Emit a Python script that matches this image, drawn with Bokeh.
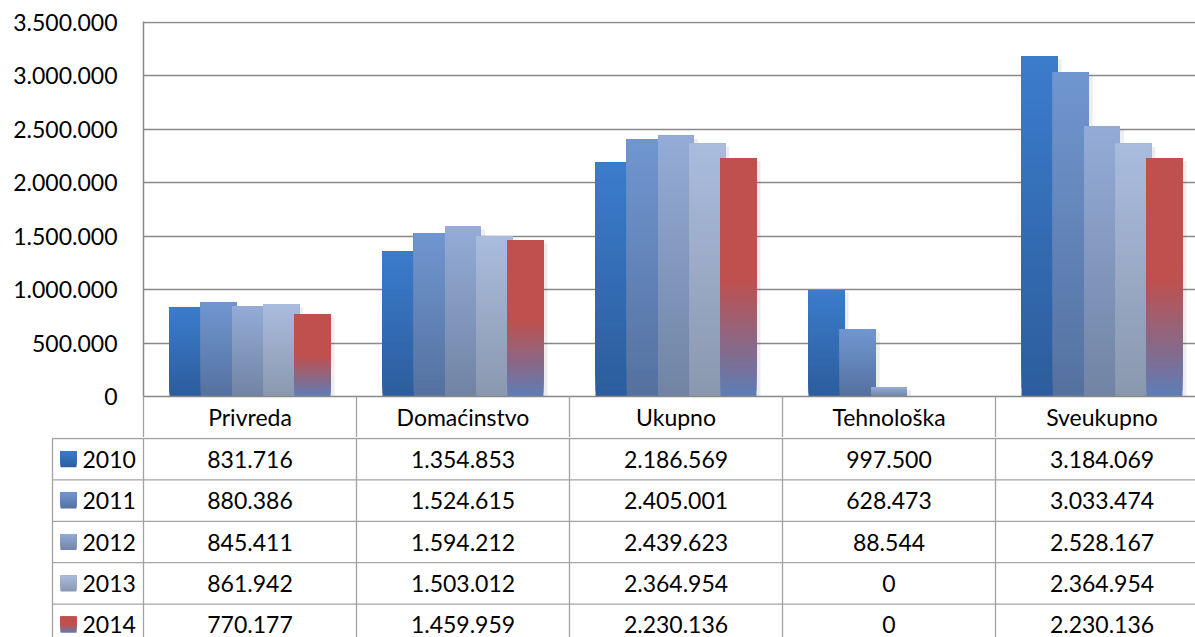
import numpy as np
from bokeh.plotting import figure
from bokeh.layouts import column
from bokeh.models import Range1d, FixedTicker
from bokeh.core.properties import value
from bokeh.embed import file_html
from bokeh.resources import INLINE

# ---------------- data ----------------
categories = ["Privreda", "Domaćinstvo", "Ukupno", "Tehnološka", "Sveukupno"]
years = ["2010", "2011", "2012", "2013", "2014"]
v2010 = [831716, 1354853, 2186569, 997500, 3184069]
v2011 = [880386, 1524615, 2405001, 628473, 3033474]
v2012 = [845411, 1594212, 2439623, 88544, 2528167]
v2013 = [861942, 1503012, 2364954, 0, 2364954]
v2014 = [770177, 1459959, 2230136, 0, 2230136]
series = [v2010, v2011, v2012, v2013, v2014]
y_ticks = [0, 500000, 1000000, 1500000, 2000000, 2500000, 3000000, 3500000]

# ---------------- style ----------------
tops = ["#3B7CCC", "#7096D1", "#93ABD7", "#AABCDE", "#C0504D"]
bottoms = ["#2C5D9C", "#54719F", "#7184A3", "#8A98AE", "#5A7EBA"]
FONT = "Lato"
FS = "23px"
GRID = "#898989"
TABLE = "#A3A3A3"

W = 1195
H = 637
LEFT = 143
FRAME_W = W - LEFT
PX_CAT = 213.0
VIS_CATS = FRAME_W / PX_CAT
TOP = 21
FRAME_H = 375
HEADER = 41
ROW = 41.4
HA = TOP + FRAME_H + HEADER
HB = H - HA
Y_MAX = 3500000
PX_Y = Y_MAX / (FRAME_H - 1)

BAR_W = 36 / PX_CAT
STEP = 31.25 / PX_CAT


def fmt(v):
    return "{:,}".format(int(v)).replace(",", ".")


def hex2rgb(h):
    h = h.lstrip("#")
    return np.array([int(h[i:i + 2], 16) for i in (0, 2, 4)], dtype=float)


def rgb2hex(c):
    c = np.clip(np.round(c), 0, 255).astype(int)
    return "#%02x%02x%02x" % tuple(c)


def grad_color(k, t):
    top, bot = hex2rgb(tops[k]), hex2rgb(bottoms[k])
    if k < 4:
        return rgb2hex(bot + (top - bot) * t)
    if t >= 0.5:
        return rgb2hex(top)
    u = (t / 0.5) ** 0.9
    return rgb2hex(bot + (top - bot) * u)


# ---------------- chart ----------------
pa = figure(width=W, height=HA, x_range=Range1d(0, VIS_CATS),
            y_range=Range1d(0, Y_MAX + PX_Y),
            output_backend="svg", toolbar_location=None,
            min_border_left=LEFT, min_border_right=0,
            min_border_top=TOP, min_border_bottom=HEADER)
pa.frame_align = False
pa.outline_line_color = None
pa.background_fill_color = "white"
pa.border_fill_color = "white"
pa.xgrid.grid_line_color = None
pa.ygrid.ticker = FixedTicker(ticks=y_ticks)
pa.ygrid.grid_line_color = GRID
pa.ygrid.grid_line_width = 1.5

ya = pa.yaxis[0]
ya.ticker = FixedTicker(ticks=y_ticks)
ya.major_label_overrides = {t: fmt(t) for t in y_ticks}
ya.major_tick_line_color = None
ya.minor_tick_line_color = None
ya.major_tick_out = 0
ya.major_tick_in = 0
ya.minor_tick_out = 0
ya.minor_tick_in = 0
ya.axis_line_color = GRID
ya.axis_line_width = 1.5
ya.major_label_standoff = 26
ya.major_label_text_font = FONT
ya.major_label_text_font_size = FS
ya.major_label_text_color = "black"

xa = pa.xaxis[0]
xa.ticker = FixedTicker(ticks=[i + 0.5 for i in range(len(categories))],
                        minor_ticks=list(range(len(categories) + 1)))
xa.major_label_overrides = {i + 0.5: c for i, c in enumerate(categories)}
xa.major_tick_line_color = None
xa.major_tick_out = 0
xa.major_tick_in = 0
xa.minor_tick_line_color = TABLE
xa.minor_tick_line_width = 1.3
xa.minor_tick_out = HEADER
xa.minor_tick_in = 0
xa.axis_line_color = GRID
xa.axis_line_width = 1.5
xa.major_label_standoff = -35
xa.major_label_text_font = FONT
xa.major_label_text_font_size = FS
xa.major_label_text_color = "black"

N = 40
for k, vals in enumerate(series):
    off = (k - 2) * STEP
    # soft shadow on the right side
    sl, sr, st = [], [], []
    for c, v in enumerate(vals):
        if v <= 0:
            continue
        right = c + 0.5 + off + BAR_W / 2
        sl.append(right)
        sr.append(right + 4 / PX_CAT)
        st.append(max(v - 3 * PX_Y, 0))
    pa.quad(left=sl, right=sr, bottom=0, top=st, fill_color="black",
            fill_alpha=0.07, line_color=None)
    L, R, B, T, C = [], [], [], [], []
    for c, v in enumerate(vals):
        if v <= 0:
            continue
        left = c + 0.5 + off - BAR_W / 2
        right = left + BAR_W
        for i in range(N):
            L.append(left)
            R.append(right)
            B.append(v * i / N)
            T.append(v)
            C.append(grad_color(k, (i + 0.5) / N))
    pa.quad(left=L, right=R, bottom=B, top=T, fill_color=C, line_color=None)

# ---------------- data table ----------------
LEG_L = (52 - LEFT) / PX_CAT
yoff = 1.0 / ROW
pb = figure(width=W, height=HB,
            x_range=Range1d(-LEFT / PX_CAT, VIS_CATS),
            y_range=Range1d(HB / ROW - yoff, -yoff),
            output_backend="svg", toolbar_location=None,
            min_border=0, min_border_left=0, min_border_right=0,
            min_border_top=0, min_border_bottom=0)
pb.frame_align = False
pb.axis.visible = False
pb.grid.visible = False
pb.outline_line_color = None
pb.background_fill_color = "white"
pb.border_fill_color = "white"

nrows = len(years)
pb.segment(x0=[LEG_L] * (nrows + 1), x1=[VIS_CATS] * (nrows + 1),
           y0=list(range(nrows + 1)), y1=list(range(nrows + 1)),
           line_color=TABLE, line_width=1.3)
vx = [LEG_L] + list(range(len(categories)))
pb.segment(x0=vx, x1=vx, y0=[0] * len(vx), y1=[nrows + 0.5] * len(vx),
           line_color=TABLE, line_width=1.3)

tx, ty, tt = [], [], []
for r, vals in enumerate(series):
    for c, v in enumerate(vals):
        tx.append(c + 0.5)
        ty.append(r + 0.5)
        tt.append(fmt(v))
pb.text(x=tx, y=ty, text=tt, text_align="center", text_baseline="middle",
        text_font=value(FONT), text_font_size=FS, text_color="black")

# legend keys
KL = LEG_L + 8 / PX_CAT
KR = LEG_L + 24 / PX_CAT
NK = 10
for r in range(nrows):
    kb = r + 0.5 + 8 / ROW
    kt = r + 0.5 - 8 / ROW
    L, R, B, T, C = [], [], [], [], []
    for i in range(NK):
        L.append(KL)
        R.append(KR)
        B.append(kb - (kb - kt) * i / NK)
        T.append(kt)
        C.append(grad_color(r, (i + 0.5) / NK))
    pb.quad(left=L, right=R, bottom=B, top=T, fill_color=C, line_color=None)
pb.text(x=[LEG_L + 30 / PX_CAT] * nrows, y=[r + 0.5 for r in range(nrows)],
        text=years, text_align="left", text_baseline="middle",
        text_font=value(FONT), text_font_size=FS, text_color="black")

layout = column(pa, pb, spacing=0)
open("out.html", "w").write(file_html(layout, INLINE))
